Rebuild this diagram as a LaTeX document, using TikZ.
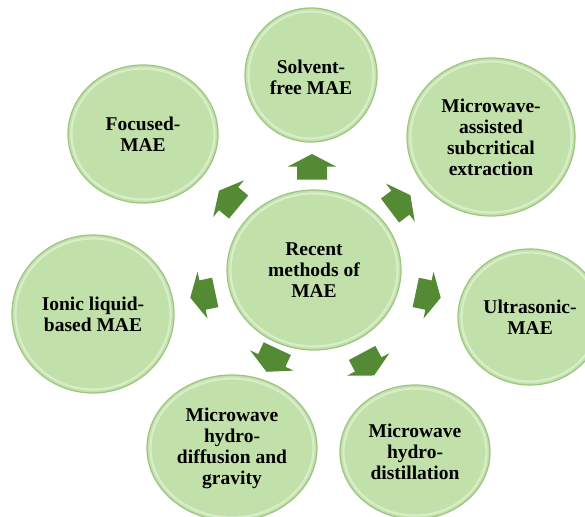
\documentclass[tikz,border=0pt]{standalone}
\usepackage{fontspec}
\setmainfont{Liberation Serif}
\usetikzlibrary{shapes.geometric}
\definecolor{cfill}{HTML}{C2E0A9}
\definecolor{cedge}{HTML}{9CC67F}
\definecolor{crim}{HTML}{D9EDCB}
\definecolor{carrow}{HTML}{548A34}
\tikzset{
  bubble/.style={ellipse, fill=cfill, draw=cedge, line width=1.2pt, align=center,
    font=\fontsize{19.5}{21}\selectfont\bfseries, inner sep=0pt},
  rim/.style={draw=crim, line width=2.2pt},
  lbl/.style={align=center, font=\fontsize{19.5}{21}\selectfont\bfseries},
  pics/blockarrow/.style={code={
    \fill[carrow] (-12.5,-15)--(0.5,-15)--(0.5,-24)--(13,0)--(0.5,24)--(0.5,15)--(-12.5,15)--cycle;}}
}
\begin{document}
\begin{tikzpicture}[x=1pt,y=-1pt]
\useasboundingbox (0,0) rectangle (585,516);
\clip (0,0) rectangle (585,516);
\fill[white] (0,0) rectangle (585,516);

% circles
\node[bubble, minimum width=174, minimum height=160] (c) at (314,270) {};
\node[bubble, minimum width=132, minimum height=134] (solv) at (311,75) {};
\node[bubble, minimum width=168, minimum height=158] (sub) at (491,137) {};
\node[bubble, minimum width=144, minimum height=136] (ultra) at (530,317) {};
\node[bubble, minimum width=150, minimum height=134] (hdist) at (415,452) {};
\node[bubble, minimum width=170, minimum height=146] (hdiff) at (232,448) {};
\node[bubble, minimum width=162, minimum height=158] (ionic) at (93,314) {};
\node[bubble, minimum width=150, minimum height=138] (foc) at (143,134) {};

% inner light rims
\foreach \n/\rx/\ry in {c/87/80, solv/66/67, sub/84/79, ultra/72/68, hdist/75/67, hdiff/85/73, ionic/81/79, foc/75/69}{
  \draw[rim] (\n.center) ellipse [x radius=\rx-3.5, y radius=\ry-3.5];
}
% texts
\node[lbl] (tc) at (c.center) {Recent\\methods of\\MAE};
\node[lbl] (tsolv) at (311,77) {Solvent-\\free MAE};
\node[lbl] (tsub) at (sub.center) {Microwave-\\assisted\\subcritical\\extraction};
\node[lbl] (tultra) at (ultra.center) {Ultrasonic-\\MAE};
\node[lbl] (thdist) at (hdist.center) {Microwave\\hydro-\\distillation};
\node[lbl] (thdiff) at (hdiff.center) {Microwave\\hydro-\\diffusion and\\gravity};
\node[lbl] (tionic) at (ionic.center) {Ionic liquid-\\based MAE};
\node[lbl] (tfoc) at (foc.center) {Focused-\\MAE};

% arrows
\pic[rotate=90]  (a1) at (312,167) {blockarrow};
\pic[rotate=140] (a2) at (229,199) {blockarrow};
\pic[rotate=37]  (a3) at (400,203) {blockarrow};
\pic[rotate=-12] (a4) at (428,295) {blockarrow};
\pic[rotate=-62] (a5) at (368,364) {blockarrow};
\pic[rotate=-115] (a6) at (272,360) {blockarrow};
\pic[rotate=192] (a7) at (203,295) {blockarrow};
\end{tikzpicture}
\end{document}
